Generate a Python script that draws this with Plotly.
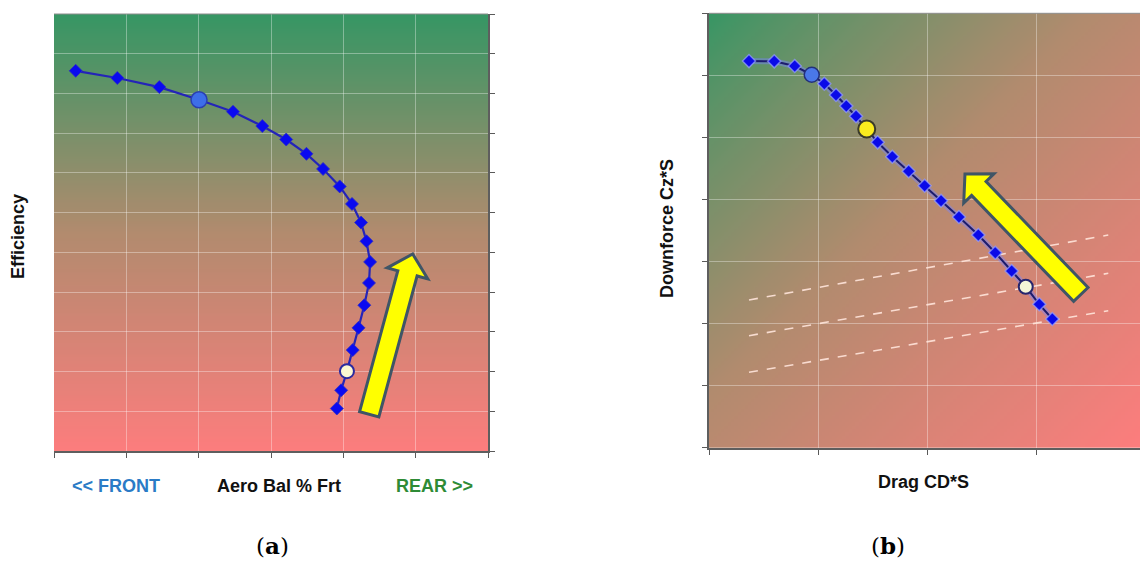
import base64
import struct
import zlib

import plotly.graph_objects as go

W, H = 1140, 561

# ---- (a) efficiency vs aero balance sweep ----
bal_front = [0.30, 0.875, 1.456, 2.005, 2.475, 2.88, 3.21, 3.49, 3.72, 3.95, 4.12,
             4.245, 4.32, 4.37, 4.355, 4.29, 4.21, 4.13, 4.05, 3.97, 3.91]
efficiency = [9.57, 9.39, 9.16, 8.84, 8.54, 8.18, 7.84, 7.48, 7.10, 6.66, 6.22,
              5.75, 5.28, 4.76, 4.23, 3.67, 3.10, 2.54, 2.01, 1.53, 1.07]

# ---- (b) downforce vs drag sweep ----
drag_cds = [0.366, 0.597, 0.784, 0.940, 1.055, 1.162, 1.256, 1.345, 1.443, 1.543, 1.677,
            1.827, 1.973, 2.123, 2.287, 2.464, 2.619, 2.769, 2.898, 3.022, 3.141]
downforce_czs = [6.23, 6.226, 6.15, 6.01, 5.865, 5.683, 5.506, 5.34, 5.135, 4.921, 4.689,
                 4.454, 4.222, 3.98, 3.717, 3.427, 3.142, 2.847, 2.594, 2.311, 2.074]

# constant-efficiency reference lines in (b)
iso_x = [0.366, 3.653]
iso_lines = [[2.38, 3.427], [1.805, 2.81], [1.215, 2.208]]

# highlighted setups (index into the sweeps)
A_BLUE, A_WHITE = 3, 18
B_BLUE, B_YELLOW, B_WHITE = 3, 8, 18

# trend arrows (tail, tip) in data units
ARROW_A = ((4.358, 0.926), (4.959, 4.958))
ARROW_B = ((3.402, 2.469), (2.342, 4.410))

# plot geometry
A_DOM_X, A_DOM_Y = [54 / W, 488 / W], [110 / H, 547 / H]
B_DOM_X, B_DOM_Y = [709 / W, 1.0], [113.3 / H, 547.7 / H]
A_RX, A_RY = [0, 6], [0, 11]
B_RX, B_RY = [0, (1140 - 709) / 109.3], [0, 7]

GREEN = (55, 150, 100)
MID = (178, 139, 110)
PINK = (252, 125, 125)


def ramp(t):
    t = min(max(t, 0.0), 1.0)
    if t < 0.5:
        a, b, f = GREEN, MID, t / 0.5
    else:
        a, b, f = MID, PINK, (t - 0.5) / 0.5
    return bytes(int(round(a[k] + (b[k] - a[k]) * f)) for k in range(3))


def png_uri(width, height, pixel):
    raw = bytearray()
    for j in range(height):
        raw.append(0)
        for i in range(width):
            raw.extend(pixel(i, j))

    def chunk(tag, data):
        body = tag + data
        return struct.pack(">I", len(data)) + body + struct.pack(">I", zlib.crc32(body) & 0xFFFFFFFF)

    png = (b"\x89PNG\r\n\x1a\n"
           + chunk(b"IHDR", struct.pack(">IIBBBBB", width, height, 8, 2, 0, 0, 0))
           + chunk(b"IDAT", zlib.compress(bytes(raw), 9))
           + chunk(b"IEND", b""))
    return "data:image/png;base64," + base64.b64encode(png).decode()


bg_a = png_uri(8, 128, lambda i, j: ramp(j / 127))
bg_b = png_uri(128, 128, lambda i, j: ramp(((i / 127 + j / 127) / 2) ** 0.85))


def to_px(x, y, rx, ry, dx, dy):
    px = (dx[0] + (x - rx[0]) / (rx[1] - rx[0]) * (dx[1] - dx[0])) * W
    py = (1 - (dy[0] + (y - ry[0]) / (ry[1] - ry[0]) * (dy[1] - dy[0]))) * H
    return px, py


def block_arrow(arrow, rx, ry, dx, dy, shaft=10, head=21, head_len=20):
    (tx, ty), (hx, hy) = arrow
    x0, y0 = to_px(tx, ty, rx, ry, dx, dy)
    x1, y1 = to_px(hx, hy, rx, ry, dx, dy)
    L = ((x1 - x0) ** 2 + (y1 - y0) ** 2) ** 0.5
    ux, uy = (x1 - x0) / L, (y1 - y0) / L
    nx, ny = -uy, ux
    bx, by = x1 - ux * head_len, y1 - uy * head_len
    pts = [(x0 + nx * shaft, y0 + ny * shaft), (bx + nx * shaft, by + ny * shaft),
           (bx + nx * head, by + ny * head), (x1, y1),
           (bx - nx * head, by - ny * head), (bx - nx * shaft, by - ny * shaft),
           (x0 - nx * shaft, y0 - ny * shaft)]
    path = "M " + " L ".join(f"{px / W:.5f},{1 - py / H:.5f}" for px, py in pts) + " Z"
    return dict(type="path", path=path, xref="paper", yref="paper",
                fillcolor="#ffff00", line=dict(color="#3f5566", width=3), layer="above")


fig = go.Figure()

# (a)
fig.add_trace(go.Scatter(
    x=bal_front, y=efficiency, mode="lines+markers",
    line=dict(color="#2424b8", width=2.2),
    marker=dict(symbol="diamond", size=10, color="#0a0af0", line=dict(color="#3030c0", width=0.8)),
    xaxis="x", yaxis="y", hoverinfo="skip"))
fig.add_trace(go.Scatter(
    x=[bal_front[A_BLUE]], y=[efficiency[A_BLUE]], mode="markers",
    marker=dict(symbol="circle", size=16, color="#3d6ee8", line=dict(color="#2a3fb0", width=1.5)),
    xaxis="x", yaxis="y", hoverinfo="skip"))
fig.add_trace(go.Scatter(
    x=[bal_front[A_WHITE]], y=[efficiency[A_WHITE]], mode="markers",
    marker=dict(symbol="circle", size=14, color="#fbf8d2", line=dict(color="#2a2aa0", width=2)),
    xaxis="x", yaxis="y", hoverinfo="skip"))

# (b)
for ys in iso_lines:
    fig.add_trace(go.Scatter(
        x=iso_x, y=ys, mode="lines",
        line=dict(color="rgba(255,228,218,0.9)", width=1.6, dash="dash"),
        xaxis="x2", yaxis="y2", hoverinfo="skip"))
fig.add_trace(go.Scatter(
    x=drag_cds, y=downforce_czs, mode="lines",
    line=dict(color="rgba(120,130,255,0.45)", width=6),
    xaxis="x2", yaxis="y2", hoverinfo="skip"))
fig.add_trace(go.Scatter(
    x=drag_cds, y=downforce_czs, mode="lines+markers",
    line=dict(color="#1c1c6e", width=2),
    marker=dict(symbol="diamond", size=10, color="#0a0ae8",
                line=dict(color="rgba(150,160,255,0.7)", width=1.5)),
    xaxis="x2", yaxis="y2", hoverinfo="skip"))
fig.add_trace(go.Scatter(
    x=[drag_cds[B_BLUE]], y=[downforce_czs[B_BLUE]], mode="markers",
    marker=dict(symbol="circle", size=15, color="#4a78e8", line=dict(color="#23307a", width=1.5)),
    xaxis="x2", yaxis="y2", hoverinfo="skip"))
fig.add_trace(go.Scatter(
    x=[drag_cds[B_YELLOW]], y=[downforce_czs[B_YELLOW]], mode="markers",
    marker=dict(symbol="circle", size=17, color="#fbec1e", line=dict(color="#3a3a2a", width=2)),
    xaxis="x2", yaxis="y2", hoverinfo="skip"))
fig.add_trace(go.Scatter(
    x=[drag_cds[B_WHITE]], y=[downforce_czs[B_WHITE]], mode="markers",
    marker=dict(symbol="circle", size=14, color="#f4f6d6", line=dict(color="#26266e", width=2)),
    xaxis="x2", yaxis="y2", hoverinfo="skip"))

axis_common = dict(showticklabels=False, ticks="outside", ticklen=5, tickwidth=1.2,
                   tickcolor="#5a5a5a", showline=True, linecolor="#5e5e5e", linewidth=2,
                   showgrid=True, gridcolor="rgba(255,255,255,0.35)", gridwidth=1,
                   zeroline=False, fixedrange=True)

fig.update_layout(
    width=W, height=H, margin=dict(l=0, r=0, t=0, b=0),
    paper_bgcolor="white", plot_bgcolor="rgba(0,0,0,0)", showlegend=False,
    xaxis=dict(domain=A_DOM_X, range=A_RX, tickvals=list(range(0, 7)), anchor="y", **axis_common),
    yaxis=dict(domain=A_DOM_Y, range=A_RY, tickvals=list(range(0, 12)), side="right",
               anchor="x", **axis_common),
    xaxis2=dict(domain=B_DOM_X, range=B_RX, tickvals=list(range(0, 4)), anchor="y2", **axis_common),
    yaxis2=dict(domain=B_DOM_Y, range=B_RY, tickvals=list(range(0, 8)), side="left",
                anchor="x2", **axis_common),
    images=[
        dict(source=bg_a, xref="x domain", yref="y domain", x=0, y=1, sizex=1, sizey=1,
             xanchor="left", yanchor="top", sizing="stretch", layer="below"),
        dict(source=bg_b, xref="x2 domain", yref="y2 domain", x=0, y=1, sizex=1, sizey=1,
             xanchor="left", yanchor="top", sizing="stretch", layer="below"),
    ],
    shapes=[
        dict(type="line", xref="x domain", yref="y domain", x0=0, x1=1, y0=1, y1=1,
             line=dict(color="#8c8c8c", width=1)),
        dict(type="line", xref="x2 domain", yref="y2 domain", x0=0, x1=1, y0=1, y1=1,
             line=dict(color="#8c8c8c", width=1)),
        block_arrow(ARROW_A, A_RX, A_RY, A_DOM_X, A_DOM_Y),
        block_arrow(ARROW_B, B_RX, B_RY, B_DOM_X, B_DOM_Y),
    ],
)

LABEL_FONT = "Liberation Sans, Arial, sans-serif"


def label(text, px, py, color="#111111", size=18, angle=0, family=LABEL_FONT, weight="bold"):
    fig.add_annotation(text=text, x=px / W, y=1 - py / H, xref="paper", yref="paper",
                       showarrow=False, textangle=angle, xanchor="center", yanchor="middle",
                       font=dict(family=family, size=size, color=color, weight=weight))


label("Efficiency", 18, 237, angle=-90)
label("Downforce Cz*S", 667, 229, angle=-90)
label("&lt;&lt; FRONT", 116, 486, color="#2a7bc6")
label("Aero Bal % Frt", 279, 486)
label("REAR &gt;&gt;", 434, 486, color="#2e8b36")
label("Drag CD*S", 923, 482)
label("(<b>a</b>)", 272, 545, size=23, family="DejaVu Serif, serif", weight="normal", color="#000000")
label("(<b>b</b>)", 888, 545, size=23, family="DejaVu Serif, serif", weight="normal", color="#000000")

fig.write_html("out.html")
